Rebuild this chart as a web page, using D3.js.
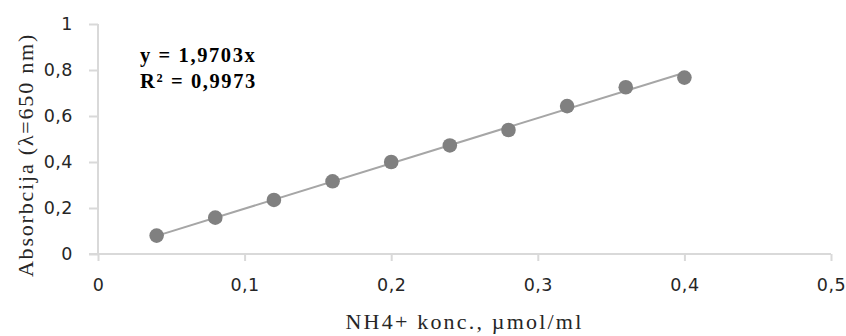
<!DOCTYPE html>
<html>
<head>
<meta charset="utf-8">
<script src="https://cdn.jsdelivr.net/npm/d3@7"></script>
<style>
  body { margin: 0; background: #fff; }
  svg { font-family: "Liberation Serif", "DejaVu Serif", serif; }
</style>
</head>
<body>
<div id="chart"></div>
<script>
// data
const conc = [0.04, 0.08, 0.12, 0.16, 0.20, 0.24, 0.28, 0.32, 0.36, 0.40];
const absorb = [0.080, 0.158, 0.235, 0.316, 0.400, 0.472, 0.539, 0.643, 0.725, 0.767];
const slope = 1.9703;
const eqLines = ["y = 1,9703x", "R² = 0,9973"];
const xTicks = [0, 0.1, 0.2, 0.3, 0.4, 0.5];
const yTicks = [0, 0.2, 0.4, 0.6, 0.8, 1];

const width = 846, height = 336;
const margin = {top: 24, right: 15, bottom: 82, left: 98};

const svg = d3.select("#chart").append("svg")
  .attr("width", width).attr("height", height);

const x = d3.scaleLinear().domain([0, 0.5]).range([margin.left, width - margin.right]);
const y = d3.scaleLinear().domain([0, 1]).range([height - margin.bottom, margin.top]);

const fmt = d => String(d).replace(".", ",");
const axisCol = "#d9d9d9";
const textCol = "#262626";

const gx = svg.append("g")
  .attr("transform", "translate(0," + y(0) + ")")
  .call(d3.axisBottom(x).tickValues(xTicks).tickFormat(fmt).tickSize(7).tickSizeOuter(0));
gx.select(".domain").attr("stroke", axisCol).attr("stroke-width", 2)
  .attr("d", "M" + (x(0) - 9) + ",0H" + x(0.5));
gx.selectAll(".tick line").attr("stroke", axisCol).attr("stroke-width", 2);
gx.selectAll(".tick text").attr("y", 31).attr("dy", "0.35em")
  .attr("font-size", 17.5).attr("fill", textCol)
  .attr("font-family", "DejaVu Sans").attr("letter-spacing", 0.5);

const gy = svg.append("g")
  .attr("transform", "translate(" + x(0) + ",0)")
  .call(d3.axisLeft(y).tickValues(yTicks).tickFormat(fmt).tickSize(9).tickSizeOuter(0));
gy.select(".domain").attr("stroke", axisCol).attr("stroke-width", 2)
  .attr("d", "M0," + y(1) + "V" + y(0));
gy.selectAll(".tick line").attr("stroke", axisCol).attr("stroke-width", 2);
gy.selectAll(".tick text").attr("x", -25).attr("font-size", 17.5).attr("fill", textCol)
  .attr("font-family", "DejaVu Sans").attr("letter-spacing", 0.5);

// linear trendline through origin
svg.append("line")
  .attr("x1", x(conc[0])).attr("y1", y(slope * conc[0]))
  .attr("x2", x(conc[conc.length - 1])).attr("y2", y(slope * conc[conc.length - 1]))
  .attr("stroke", "#a6a6a6").attr("stroke-width", 2);

svg.append("g").selectAll("circle")
  .data(conc.map((c, i) => ({c, a: absorb[i]})))
  .join("circle")
  .attr("cx", d => x(d.c)).attr("cy", d => y(d.a))
  .attr("r", 7.3).attr("fill", "#808080");

svg.append("text")
  .attr("font-size", 20.5).attr("font-weight", "bold").attr("fill", "#000")
  .attr("letter-spacing", 1.6)
  .selectAll("tspan").data(eqLines).join("tspan")
  .attr("x", 140).attr("y", (d, i) => 62 + i * 26).text(d => d);

svg.append("text")
  .attr("x", (x(0) + x(0.5)) / 2).attr("y", 329)
  .attr("text-anchor", "middle").attr("font-size", 22).attr("fill", textCol)
  .attr("letter-spacing", 2.2)
  .text("NH4+ konc., µmol/ml");

svg.append("text")
  .attr("transform", "translate(33,155) rotate(-90)")
  .attr("text-anchor", "middle").attr("font-size", 22).attr("fill", textCol)
  .attr("letter-spacing", 1.8)
  .text("Absorbcija (λ=650 nm)");
</script>
</body>
</html>
